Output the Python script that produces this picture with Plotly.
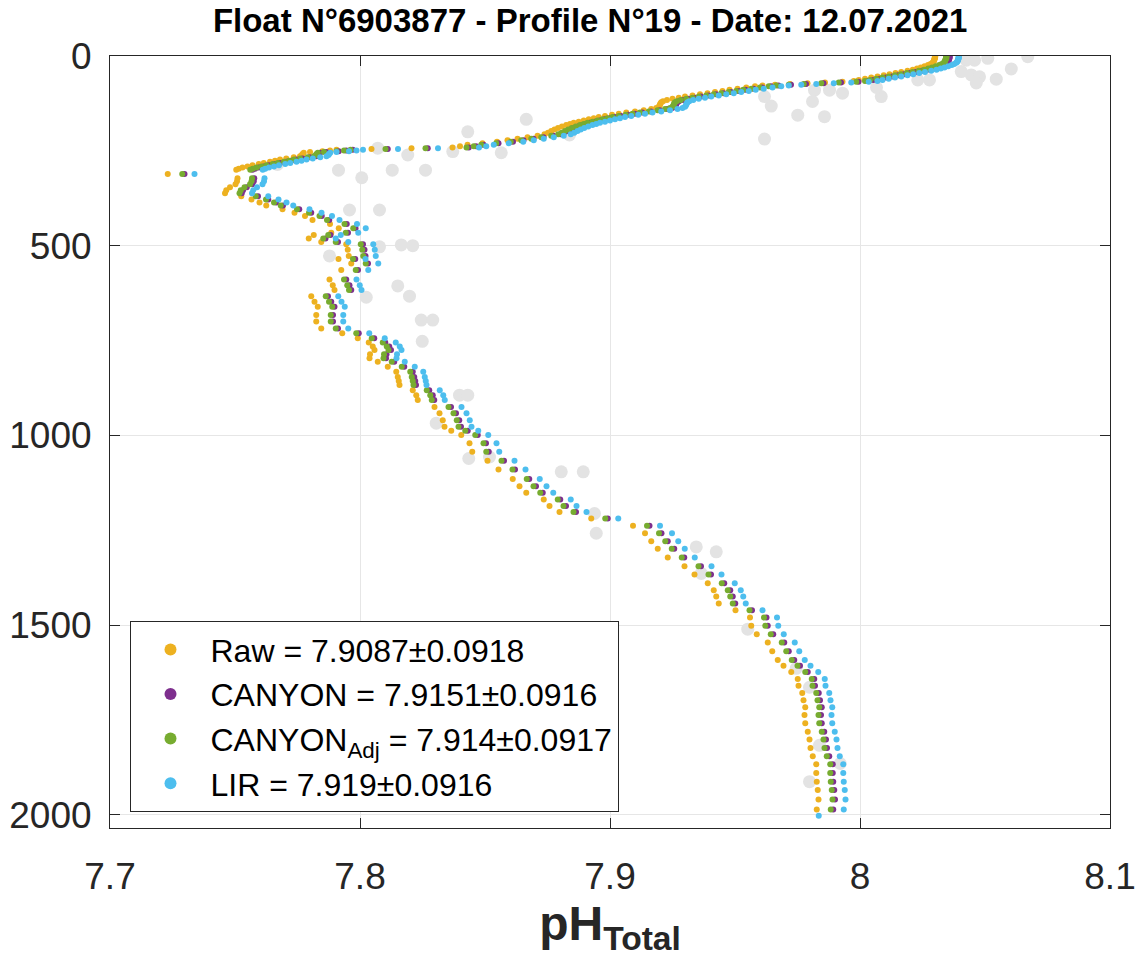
import plotly.graph_objects as go

# ---------------- data ----------------
depth = [
    0, 2, 4, 6, 8, 10, 12, 14, 16, 18, 21, 24, 27, 30, 33, 36, 39, 42, 45, 48, 51, 54, 57, 60, 63, 66,
    68, 70, 72, 74, 76, 78, 80,
    83, 86, 89, 92, 95, 98, 101, 104, 107, 110, 113, 116, 119, 122, 125, 128, 131, 134, 137, 140,
    143, 146, 149, 152, 155, 158, 161, 164, 167, 170, 173, 176, 179, 182,
    186, 190, 194, 198, 202, 206, 210, 214, 218, 222, 226, 230, 234, 238,
    241, 243, 245, 247, 249, 251, 253, 255, 258, 261, 264, 267, 270, 273, 276, 279, 282, 285, 288,
    291, 294, 297, 300,
    311, 322, 330, 338, 346, 354, 362, 370, 378, 386, 394, 404, 413, 422, 432, 443, 454, 466, 472,
    481, 490, 496, 511, 527, 535, 547, 564, 589, 604, 617, 633, 648, 661, 683, 700, 718,
    731, 744, 755, 766, 775, 786, 797, 806, 819, 832, 846, 857, 867, 881, 894, 907, 925, 942, 960,
    977, 988, 999, 1021, 1043, 1067, 1090, 1115, 1134, 1151, 1169, 1186, 1202, 1219, 1238, 1258,
    1279, 1299, 1322, 1345, 1367, 1390, 1408, 1425, 1443, 1461, 1480, 1502, 1524, 1546, 1569, 1592,
    1607, 1624, 1642, 1660, 1679, 1698, 1717, 1737, 1759, 1781, 1802, 1824, 1846, 1867, 1890, 1913,
    1935, 1960, 1986, 2003,
]

ph_raw = [
    8.0300, 8.0301, 8.0299, 8.0300, 8.0298, 8.0297, 8.0296, 8.0295, 8.0293, 8.0290, 8.0282, 8.0272, 8.0258,
    8.0243, 8.0228, 8.0211, 8.0190, 8.0165, 8.0142, 8.0118, 8.0095, 8.0070, 8.0045, 8.0020, 7.9995, 7.9975,
    7.9930, 7.9860, 7.9790, 7.9720, 7.9660, 7.9610, 7.9580,
    7.9545, 7.9510, 7.9478, 7.9450, 7.9420, 7.9390, 7.9360, 7.9330, 7.9300, 7.9275, 7.9250, 7.9228, 7.9212,
    7.9205, 7.9202, 7.9200, 7.9198, 7.9195, 7.9185, 7.9165, 7.9135, 7.9100, 7.9065, 7.9035, 7.9008, 7.8980,
    7.8955, 7.8935, 7.8915, 7.8895, 7.8875, 7.8855, 7.8840, 7.8825,
    7.8808, 7.8792, 7.8778, 7.8765, 7.8752, 7.8738, 7.8710, 7.8670, 7.8630, 7.8590, 7.8548, 7.8490, 7.8430, 7.8400,
    7.8370, 7.8206, 7.8046, 7.7906, 7.7880, 7.7850, 7.7800, 7.7775, 7.7770, 7.7768, 7.7760, 7.7735, 7.7705,
    7.7680, 7.7660, 7.7640, 7.7615, 7.7595, 7.7570, 7.7550, 7.7530, 7.7515, 7.7505,
    7.7231, 7.7510, 7.7508, 7.7502, 7.7480, 7.7465, 7.7460, 7.7525, 7.7566, 7.7598,
    7.7625, 7.7690, 7.7738, 7.7780, 7.7810, 7.7880, 7.7915, 7.7885, 7.7815, 7.7795,
    7.7845, 7.7945, 7.7951, 7.7955, 7.7914, 7.7965, 7.7925, 7.7878, 7.7891, 7.7898,
    7.7805, 7.7818, 7.7831, 7.7825, 7.7825, 7.7845,
    7.7929, 7.7991, 7.8035, 7.8051, 7.8058, 7.8040, 7.8038, 7.8071, 7.8111, 7.8145,
    7.8151, 7.8155, 7.8158, 7.8211, 7.8225, 7.8231, 7.8298, 7.8318, 7.8331, 7.8338,
    7.8365, 7.8405, 7.8438, 7.8449, 7.8510, 7.8554, 7.8611, 7.8638, 7.8665, 7.8735,
    7.8758, 7.8798, 7.8925, 7.9092, 7.9140, 7.9165, 7.9191, 7.9231, 7.9298, 7.9338,
    7.9391, 7.9415, 7.9425, 7.9435, 7.9502, 7.9560, 7.9565, 7.9587, 7.9631, 7.9649,
    7.9671, 7.9694, 7.9725, 7.9751, 7.9754, 7.9769, 7.9774, 7.9781, 7.9778, 7.9781,
    7.9791, 7.9798, 7.9802, 7.9811, 7.9825, 7.9825, 7.9827, 7.9831, 7.9834, 7.9827, None,
]

ph_canyon = [
    8.0358, 8.0359, 8.0357, 8.0358, 8.0356, 8.0355, 8.0354, 8.0353, 8.0351, 8.0348, 8.0340, 8.0330, 8.0316,
    8.0301, 8.0286, 8.0269, 8.0248, 8.0223, 8.0200, 8.0176, 8.0153, 8.0128, 8.0103, 8.0078, 8.0053, 8.0033,
    7.9994, 7.9924, 7.9854, 7.9784, 7.9724, 7.9674, 7.9644,
    7.9609, 7.9574, 7.9542, 7.9514, 7.9484, 7.9454, 7.9424, 7.9394, 7.9364, 7.9339, 7.9314, 7.9292, 7.9276,
    7.9269, 7.9266, 7.9264, 7.9262, 7.9259, 7.9249, 7.9229, 7.9199, 7.9164, 7.9129, 7.9099, 7.9072, 7.9044,
    7.9019, 7.8999, 7.8979, 7.8959, 7.8939, 7.8919, 7.8904, 7.8889,
    7.8872, 7.8856, 7.8842, 7.8829, 7.8816, 7.8802, 7.8774, 7.8734, 7.8694, 7.8654, 7.8612, 7.8554, 7.8494, 7.8464,
    7.8435, 7.8271, 7.8111, 7.7971, 7.7945, 7.7915, 7.7865, 7.7840, 7.7835, 7.7833, 7.7825, 7.7800, 7.7770,
    7.7745, 7.7725, 7.7705, 7.7680, 7.7660, 7.7635, 7.7615, 7.7595, 7.7580, 7.7570,
    7.7298, 7.7577, 7.7575, 7.7569, 7.7547, 7.7532, 7.7527, 7.7592, 7.7633, 7.7665,
    7.7692, 7.7757, 7.7805, 7.7847, 7.7877, 7.7947, 7.7982, 7.7952, 7.7882, 7.7862,
    7.7912, 7.8012, 7.8018, 7.8022, 7.7981, 7.8032, 7.7992, 7.7945, 7.7958, 7.7965,
    7.7872, 7.7885, 7.7898, 7.7892, 7.7892, 7.7912,
    7.7995, 7.8057, 7.8101, 7.8117, 7.8124, 7.8106, 7.8104, 7.8137, 7.8177, 7.8211,
    7.8217, 7.8221, 7.8224, 7.8277, 7.8291, 7.8297, 7.8364, 7.8384, 7.8397, 7.8404,
    7.8431, 7.8471, 7.8504, 7.8515, 7.8576, 7.8620, 7.8677, 7.8704, 7.8731, 7.8801,
    7.8824, 7.8864, 7.8991, 7.9158, 7.9206, 7.9231, 7.9257, 7.9297, 7.9364, 7.9404,
    7.9457, 7.9481, 7.9491, 7.9501, 7.9568, 7.9626, 7.9631, 7.9653, 7.9697, 7.9715,
    7.9737, 7.9760, 7.9791, 7.9817, 7.9820, 7.9835, 7.9840, 7.9847, 7.9844, 7.9847,
    7.9857, 7.9864, 7.9868, 7.9877, 7.9891, 7.9891, 7.9893, 7.9897, 7.9900, 7.9893, None,
]

ph_canyon_adj = [
    8.0345, 8.0346, 8.0344, 8.0345, 8.0343, 8.0342, 8.0341, 8.0340, 8.0338, 8.0335, 8.0327, 8.0317, 8.0303,
    8.0288, 8.0273, 8.0256, 8.0235, 8.0210, 8.0187, 8.0163, 8.0140, 8.0115, 8.0090, 8.0065, 8.0040, 8.0020,
    7.9985, 7.9915, 7.9845, 7.9775, 7.9715, 7.9665, 7.9635,
    7.9600, 7.9565, 7.9533, 7.9505, 7.9475, 7.9445, 7.9415, 7.9385, 7.9355, 7.9330, 7.9305, 7.9283, 7.9267,
    7.9260, 7.9257, 7.9255, 7.9253, 7.9250, 7.9240, 7.9220, 7.9190, 7.9155, 7.9120, 7.9090, 7.9063, 7.9035,
    7.9010, 7.8990, 7.8970, 7.8950, 7.8930, 7.8910, 7.8895, 7.8880,
    7.8863, 7.8847, 7.8833, 7.8820, 7.8807, 7.8793, 7.8765, 7.8725, 7.8685, 7.8645, 7.8603, 7.8545, 7.8485, 7.8455,
    7.8426, 7.8262, 7.8102, 7.7962, 7.7936, 7.7906, 7.7856, 7.7831, 7.7826, 7.7824, 7.7816, 7.7791, 7.7761,
    7.7736, 7.7716, 7.7696, 7.7671, 7.7651, 7.7626, 7.7606, 7.7586, 7.7571, 7.7561,
    7.7289, 7.7568, 7.7566, 7.7560, 7.7538, 7.7523, 7.7518, 7.7583, 7.7624, 7.7656,
    7.7683, 7.7748, 7.7796, 7.7838, 7.7868, 7.7938, 7.7973, 7.7943, 7.7873, 7.7853,
    7.7903, 7.8003, 7.8009, 7.8013, 7.7972, 7.8023, 7.7983, 7.7936, 7.7949, 7.7956,
    7.7863, 7.7876, 7.7889, 7.7883, 7.7883, 7.7903,
    7.7985, 7.8047, 7.8091, 7.8107, 7.8114, 7.8096, 7.8094, 7.8127, 7.8167, 7.8201,
    7.8207, 7.8211, 7.8214, 7.8267, 7.8281, 7.8287, 7.8354, 7.8374, 7.8387, 7.8394,
    7.8421, 7.8461, 7.8494, 7.8505, 7.8566, 7.8610, 7.8667, 7.8694, 7.8721, 7.8791,
    7.8814, 7.8854, 7.8981, 7.9148, 7.9196, 7.9221, 7.9247, 7.9287, 7.9354, 7.9394,
    7.9447, 7.9471, 7.9481, 7.9491, 7.9558, 7.9616, 7.9621, 7.9643, 7.9687, 7.9705,
    7.9727, 7.9750, 7.9781, 7.9807, 7.9810, 7.9825, 7.9830, 7.9837, 7.9834, 7.9837,
    7.9847, 7.9854, 7.9858, 7.9867, 7.9881, 7.9881, 7.9883, 7.9887, 7.9890, 7.9883, None,
]

ph_lir = [
    8.0395, 8.0396, 8.0394, 8.0395, 8.0393, 8.0392, 8.0391, 8.0390, 8.0388, 8.0385, 8.0377, 8.0367, 8.0353,
    8.0338, 8.0323, 8.0306, 8.0285, 8.0260, 8.0237, 8.0213, 8.0190, 8.0165, 8.0140, 8.0115, 8.0090, 8.0070,
    8.0035, 7.9965, 7.9895, 7.9825, 7.9765, 7.9715, 7.9685,
    7.9650, 7.9615, 7.9583, 7.9555, 7.9525, 7.9495, 7.9465, 7.9435, 7.9405, 7.9380, 7.9355, 7.9333, 7.9317,
    7.9310, 7.9307, 7.9305, 7.9303, 7.9300, 7.9290, 7.9270, 7.9240, 7.9205, 7.9170, 7.9140, 7.9113, 7.9085,
    7.9060, 7.9040, 7.9020, 7.9000, 7.8980, 7.8960, 7.8945, 7.8930,
    7.8913, 7.8897, 7.8883, 7.8870, 7.8857, 7.8843, 7.8815, 7.8775, 7.8735, 7.8695, 7.8653, 7.8595, 7.8535, 7.8505,
    7.8476, 7.8312, 7.8152, 7.8012, 7.7986, 7.7956, 7.7906, 7.7881, 7.7876, 7.7874, 7.7866, 7.7841, 7.7811,
    7.7786, 7.7766, 7.7746, 7.7721, 7.7701, 7.7676, 7.7656, 7.7636, 7.7621, 7.7611,
    7.7338, 7.7618, 7.7616, 7.7610, 7.7588, 7.7573, 7.7568, 7.7633, 7.7674, 7.7706,
    7.7733, 7.7798, 7.7846, 7.7888, 7.7918, 7.7988, 7.8023, 7.7993, 7.7923, 7.7903,
    7.7953, 7.8053, 7.8059, 7.8063, 7.8022, 7.8073, 7.8033, 7.7986, 7.7999, 7.8006,
    7.7913, 7.7926, 7.7939, 7.7933, 7.7933, 7.7953,
    7.8037, 7.8099, 7.8143, 7.8159, 7.8166, 7.8148, 7.8146, 7.8179, 7.8219, 7.8253,
    7.8259, 7.8263, 7.8266, 7.8319, 7.8333, 7.8339, 7.8406, 7.8426, 7.8439, 7.8446,
    7.8473, 7.8513, 7.8546, 7.8557, 7.8618, 7.8662, 7.8719, 7.8746, 7.8773, 7.8843,
    7.8866, 7.8906, 7.9033, 7.9200, 7.9248, 7.9273, 7.9299, 7.9339, 7.9406, 7.9446,
    7.9499, 7.9523, 7.9533, 7.9543, 7.9610, 7.9668, 7.9673, 7.9695, 7.9739, 7.9757,
    7.9779, 7.9802, 7.9833, 7.9859, 7.9862, 7.9877, 7.9882, 7.9889, 7.9886, 7.9889,
    7.9899, 7.9906, 7.9910, 7.9919, 7.9933, 7.9933, 7.9935, 7.9939, 7.9942, 7.9935, 7.9835,
]

# reference (grey) measurements
ref_ph = [
    8.0671, 8.0511, 8.0458, 8.0425, 8.0605, 8.0405, 8.0445, 8.0478, 8.0545, 8.0465, 8.0278, 8.0231,
    8.0085, 8.0066, 7.9930, 7.9878, 7.9818, 7.9810, 7.9858, 7.9751, 7.9645, 7.9618, 7.9618,
    7.8665, 7.8431, 7.8838, 7.8565, 7.8371, 7.8191, 7.8071, 7.7914, 7.8129, 7.8262, 7.8007, 7.7670,
    7.7958, 7.8078, 7.8078, 7.8165, 7.8211, 7.7878, 7.8151, 7.8198, 7.8025, 7.8245, 7.8291, 7.8249,
    7.8398, 7.8431, 7.8305, 7.8435, 7.8518, 7.8805, 7.8893, 7.8938, 7.8945, 7.9345, 7.9425, 7.9365,
    7.9551, 7.9745, 7.9798, 7.9838, 7.9921, 7.9798,
]
ref_depth = [
    2, 6, 11, 11, 34, 41, 50, 55, 61, 71, 63, 63,
    107, 83, 98, 90, 90, 120, 160, 156, 132, 107, 219,
    167, 200, 208, 255, 252, 261, 243, 301, 301, 301, 321, 286,
    406, 406, 503, 498, 500, 527, 606, 633, 636, 696, 696, 752,
    894, 894, 968, 1061, 1057, 1096, 1096, 1206, 1258, 1294, 1307, 1364,
    1511, 1614, 1664, 1817, 1865, 1913,
]

series_names = [
    "Raw = 7.9087±0.0918",
    "CANYON = 7.9151±0.0916",
    "CANYON<sub>Adj</sub> = 7.914±0.0917",
    "LIR = 7.919±0.0916",
]
series_colors = ["#EDB120", "#7E2F8E", "#77AC30", "#4DBEEE"]
x_ticks = [7.7, 7.8, 7.9, 8.0, 8.1]
x_tick_labels = ["7.7", "7.8", "7.9", "8", "8.1"]
y_ticks = [0, 500, 1000, 1500, 2000]

for arr in (ph_raw, ph_canyon, ph_canyon_adj, ph_lir):
    assert len(arr) == len(depth), (len(arr), len(depth))
assert len(ref_ph) == len(ref_depth), (len(ref_ph), len(ref_depth))

FONT = "Liberation Sans, Arial, Helvetica, sans-serif"
INK = "#262626"

fig = go.Figure()
fig.add_trace(go.Scatter(
    x=ref_ph, y=ref_depth, mode="markers", showlegend=False, hoverinfo="skip",
    marker=dict(size=13, color="#e3e3e3", line=dict(width=0)),
))
for name, col, vals in zip(series_names, series_colors,
                           [ph_raw, ph_canyon, ph_canyon_adj, ph_lir]):
    fig.add_trace(go.Scatter(
        x=vals, y=depth, mode="markers", name=name,
        marker=dict(size=6, color=col, line=dict(width=0)),
    ))

fig.update_layout(
    width=1135, height=963,
    margin=dict(l=110, r=25, t=56, b=135, autoexpand=False),
    paper_bgcolor="white", plot_bgcolor="white",
    font=dict(family=FONT, color=INK),
    title=dict(
        text="<b>Float N°6903877 - Profile N°19 - Date: 12.07.2021</b>",
        x=0.52, xanchor="center", y=0.979, yanchor="middle", xref="container", yref="container",
        font=dict(size=33, color="black", family=FONT),
    ),
    legend=dict(
        x=0.0195, y=0.268, xanchor="left", yanchor="top",
        bgcolor="white", bordercolor=INK, borderwidth=1,
        font=dict(size=32, color="black", family=FONT),
        itemwidth=70, tracegroupgap=0, itemsizing="constant",
    ),
    showlegend=True,
)
fig.update_xaxes(
    range=[7.7, 8.1], tickvals=x_ticks, ticktext=x_tick_labels, automargin=False,
    ticklabeloverflow="allow",
    showgrid=True, gridcolor="#e6e6e6", gridwidth=1, zeroline=False,
    showline=True, linecolor=INK, linewidth=1, mirror="ticks",
    ticks="inside", ticklen=10, tickcolor=INK, tickwidth=1,
    tickfont=dict(size=37, color=INK, family=FONT), ticklabelstandoff=16,
    title=dict(text="<b>pH<sub>Total</sub></b>", font=dict(size=48, color=INK, family=FONT), standoff=0),
)
fig.update_yaxes(
    range=[2035, 0], tickvals=y_ticks, automargin=False,
    ticklabeloverflow="allow",
    showgrid=True, gridcolor="#e6e6e6", gridwidth=1, zeroline=False,
    showline=True, linecolor=INK, linewidth=1, mirror="ticks",
    ticks="inside", ticklen=10, tickcolor=INK, tickwidth=1,
    tickfont=dict(size=37, color=INK, family=FONT), ticklabelstandoff=10,
)

fig.write_html(
    "out.html",
    config={"displayModeBar": False},
    post_script="document.body.style.margin='0';document.body.style.overflow='hidden';",
)
